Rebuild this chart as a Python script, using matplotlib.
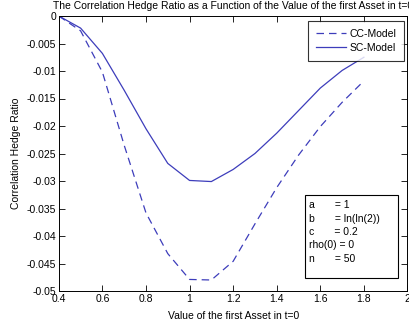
import matplotlib
matplotlib.use("Agg")
import matplotlib.pyplot as plt
from matplotlib.patches import Rectangle

# Wert des ersten Assets in t=0
s0 = [0.4, 0.5, 0.6, 0.7, 0.8, 0.9, 1.0, 1.1, 1.2, 1.3, 1.4, 1.5, 1.6, 1.7, 1.8]

cc_model = [0.0, -0.0027, -0.0102, -0.0235, -0.0358, -0.0432, -0.0479, -0.0480,
            -0.0446, -0.0378, -0.0312, -0.0253, -0.0201, -0.0157, -0.0118]
sc_model = [0.0, -0.0022, -0.0068, -0.0135, -0.0205, -0.0268, -0.0299, -0.0301,
            -0.0279, -0.0250, -0.0213, -0.0172, -0.0131, -0.0099, -0.0075]

x_ticks = [0.4, 0.6, 0.8, 1.0, 1.2, 1.4, 1.6, 1.8, 2.0]
x_labels = ["0.4", "0.6", "0.8", "1", "1.2", "1.4", "1.6", "1.8", "2"]
y_ticks = [0, -0.005, -0.01, -0.015, -0.02, -0.025, -0.03, -0.035, -0.04, -0.045, -0.05]
y_labels = ["0", "-0.005", "-0.01", "-0.015", "-0.02", "-0.025", "-0.03",
            "-0.035", "-0.04", "-0.045", "-0.05"]

param_lines = ["a       = 1", "b       = ln(ln(2))", "c       = 0.2", "rho(0) = 0", "n       = 50"]

plt.rcParams['font.family'] = ['Liberation Sans', 'DejaVu Sans']
line_col = '#3d3dbb'

W, H = 409, 324
fig = plt.figure(figsize=(W / 100, H / 100), dpi=100)

def fx(px):
    return px / W

def fy(py):
    return 1 - py / H

ax = fig.add_axes([fx(58.8), fy(291), (407.5 - 58.8) / W, (291 - 16) / H])

ax.plot(s0, cc_model, color=line_col, lw=0.9, dashes=(6, 4), label='CC-Model')
ax.plot(s0, sc_model, color=line_col, lw=0.9, label='SC-Model')

ax.set_xlim(0.4, 2.0)
ax.set_ylim(-0.05, 0)
ax.set_xticks(x_ticks)
ax.set_xticklabels(x_labels)
ax.set_yticks(y_ticks)
ax.set_yticklabels(y_labels)
ax.tick_params(direction='in', top=True, right=True, length=4, width=0.6,
               labelsize=7.5, pad=2, colors='black')
for sp in ax.spines.values():
    sp.set_linewidth(0.7)

ax.set_xlabel("Value of the first Asset in t=0", fontsize=7.5, labelpad=5)
ax.set_ylabel("Correlation Hedge Ratio", fontsize=7.5, labelpad=4)
ax.set_title("The Correlation Hedge Ratio as a Function of the Value of the first Asset in t=0",
             fontsize=7.5, pad=5)

leg = ax.legend(loc='upper right', bbox_to_anchor=(fx(404), fy(21)),
                bbox_transform=fig.transFigure, fontsize=7.5, frameon=True,
                fancybox=False, edgecolor='black', borderaxespad=0,
                handlelength=2.9, handletextpad=0.3, borderpad=0.75,
                labelspacing=0.4)
leg.get_frame().set_linewidth(0.8)

# Parameterbox
fig.patches.append(Rectangle((fx(305), fy(278)), (398 - 305) / W, (278 - 195) / H,
                             transform=fig.transFigure, fc='white', ec='black',
                             lw=0.8, zorder=5))
for i, line in enumerate(param_lines):
    fig.text(fx(309), fy(205 + i * 13.5), line, fontsize=7.5, va='center',
             ha='left', zorder=6)

fig.savefig("out.png", dpi=100)
